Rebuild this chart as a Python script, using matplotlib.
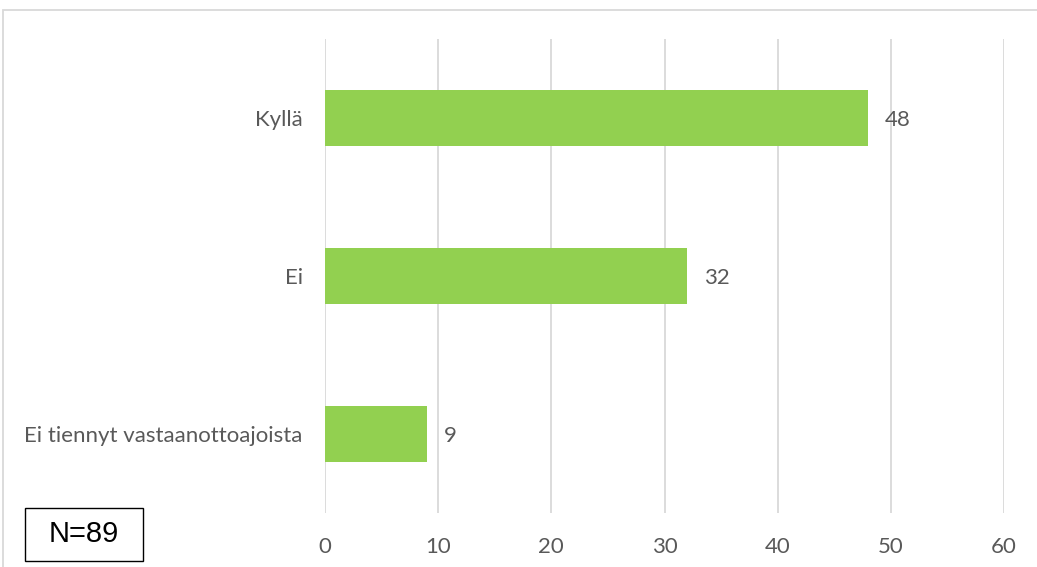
import matplotlib
matplotlib.use("Agg")
import matplotlib.pyplot as plt
from matplotlib.patches import Rectangle

categories = ["Kyllä", "Ei", "Ei tiennyt vastaanottoajoista"]
values = [48, 32, 9]
xticks = [0, 10, 20, 30, 40, 50, 60]
note = "N=89"

BAR_COLOR = "#92D050"
TEXT_COLOR = "#595959"
GRID_COLOR = "#D9D9D9"
FONT = ["Lato", "DejaVu Sans"]
FS = 16

fig = plt.figure(figsize=(10.37, 5.67), dpi=100)
ax = fig.add_axes([325/1037, 1 - 513/567, (1004-325)/1037, (513-39)/567])

ypos = list(range(len(categories)))
bars = ax.barh(ypos, values, height=0.355, color=BAR_COLOR, zorder=3)
ax.set_ylim(len(categories) - 0.5, -0.5)
ax.set_xlim(0, 60)
ax.set_xticks(xticks)
ax.set_xticklabels([str(t) for t in xticks], fontsize=FS, color=TEXT_COLOR, family=FONT)
ax.set_yticks(ypos)
ax.set_yticklabels(categories, fontsize=FS, color=TEXT_COLOR, family=FONT)
ax.tick_params(axis="both", length=0)
ax.tick_params(axis="y", pad=16)
ax.tick_params(axis="x", pad=17)
ax.xaxis.grid(True, color=GRID_COLOR, linewidth=1.3, zorder=0)
for s in ax.spines.values():
    s.set_visible(False)

for b, v in zip(bars, values):
    ax.annotate(str(v), (b.get_width(), b.get_y() + b.get_height()/2),
                xytext=(12, -1.5), textcoords="offset points", va="center", ha="left",
                fontsize=FS, color=TEXT_COLOR, family=FONT)

# outer chart border (extends beyond right/bottom edges)
fig.patches.append(Rectangle((3/1037, -0.2), 1.2, 1 - 9.5/567 + 0.2,
                             transform=fig.transFigure, fill=False,
                             edgecolor="#D9D9D9", linewidth=1.3))

fig.text(84/1037, 1 - 534/567, note, ha="center", va="center", fontsize=21,
         family=["Liberation Sans", "DejaVu Sans"], color="black")
fig.patches.append(Rectangle((25/1037, 1 - 561/567), 118/1037, 53/567,
                             transform=fig.transFigure, fill=False,
                             edgecolor="black", linewidth=1.0))

fig.savefig("out.png", dpi=100)
